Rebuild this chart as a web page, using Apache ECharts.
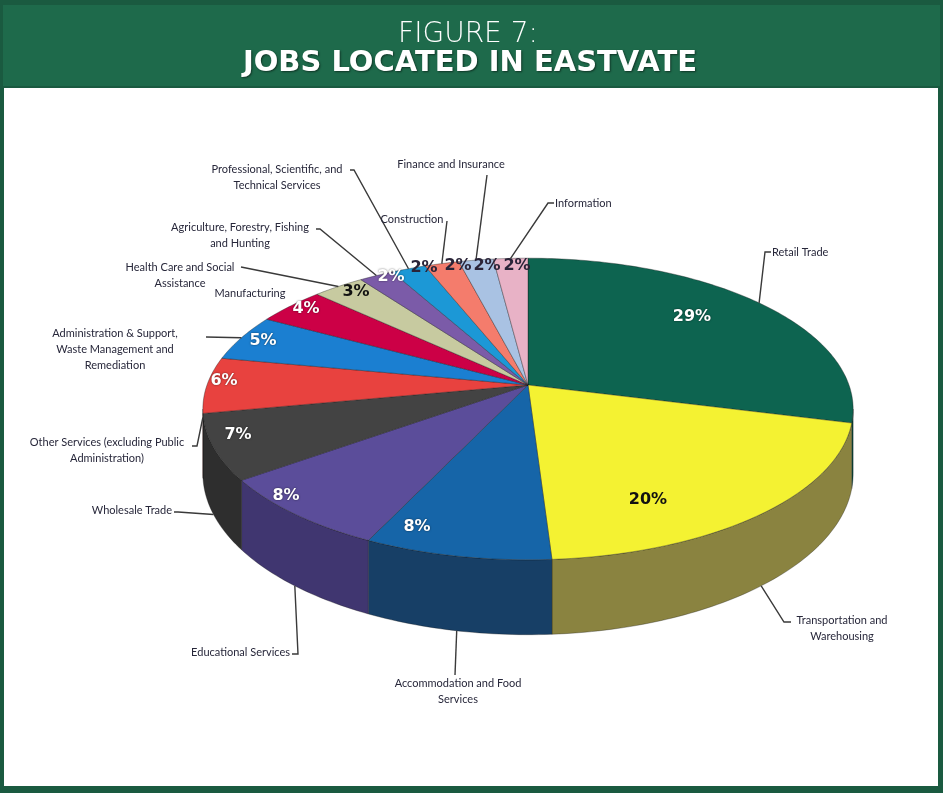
<!DOCTYPE html>
<html>
<head>
<meta charset="utf-8">
<title>Jobs Located in Eastvate</title>
<script src="https://cdn.jsdelivr.net/npm/echarts@6/dist/echarts.min.js"></script>
<style>
  html, body { margin: 0; padding: 0; background: #fff; }
  #chart { width: 943px; height: 793px; }
</style>
</head>
<body>
<div id="chart"></div>
<script>
// Industry sectors, clockwise from 12 o'clock
const categories = [
  'Retail Trade',
  'Transportation and\nWarehousing',
  'Accommodation and Food\nServices',
  'Educational Services',
  'Wholesale Trade',
  'Other Services (excluding Public\nAdministration)',
  'Administration & Support,\nWaste Management and\nRemediation',
  'Manufacturing',
  'Health Care and Social\nAssistance',
  'Agriculture, Forestry, Fishing\nand Hunting',
  'Professional, Scientific, and\nTechnical Services',
  'Construction',
  'Finance and Insurance',
  'Information'
];

// Share of jobs (%)
const shares = [29, 20, 8, 8, 7, 6, 5, 4, 3, 2, 2, 2, 2, 2];

// Slice colours: top face and side wall
const topColors = ['#0d6450', '#f4f232', '#1665a8', '#5b4d9a', '#434343', '#e8423f', '#1b7fd1',
  '#cc0046', '#c7caa0', '#7b5ba8', '#1c98d6', '#f47c6c', '#a9c2e3', '#e8b2c6'];
const sideColors = ['#0a4a3b', '#8a8340', '#173f66', '#403670', '#2e2e2e', '#a52e2c', '#135a94',
  '#8f0032', '#8c8e70', '#574077', '#146b97', '#ab574c', '#76889f', '#a37d8b'];
const pctColors = ['#ffffff', '#111111', '#ffffff', '#ffffff', '#ffffff', '#ffffff', '#ffffff',
  '#ffffff', '#111111', '#ffffff', '#2a2438', '#2a2438', '#2a2438', '#2a2438'];

// Tilted-disc projection of the pie
const PIE = { cx: 528, cy: 385, rx: 321, ry: 147, k: 0.159, h: 63 };
const WALL_MIN = Math.acos(-PIE.k);
const WALL_MAX = 2 * Math.PI - WALL_MIN;

function project(theta, r, depth) {
  const u = Math.sin(theta) * r;
  const v = -Math.cos(theta) * r;
  const d = 1 - PIE.k * v;
  return [PIE.cx + PIE.rx * u / d, PIE.cy + (PIE.ry * v + PIE.h * depth) / d];
}

const total = shares.reduce((a, b) => a + b, 0);
const startAngles = [];
let acc = 0;
shares.forEach(v => { startAngles.push(acc / total * 2 * Math.PI); acc += v; });
const sweeps = shares.map(v => v / total * 2 * Math.PI);

// Label placement (layout only)
const pctPos = [[692, 317], [648, 500], [417, 527], [286, 496], [238, 435], [224, 381], [263, 341],
  [306, 309], [356, 292], [391, 277], [424, 268], [458, 266], [487, 266], [517, 266]];
const callouts = [
  { x: 772, y: 252, align: 'left',   depth: 0,    elbow: [765, 252], end: [771, 252] },
  { x: 842, y: 620, align: 'center', depth: 1,    elbow: [784, 622], end: [791, 622] },
  { x: 458, y: 683, align: 'center', depth: 1,    elbow: null,       end: [455, 675] },
  { x: 290, y: 652, align: 'right',  depth: 1,    elbow: [298, 654], end: [292, 654] },
  { x: 172, y: 510, align: 'right',  depth: 1,    elbow: [178, 512], end: [174, 512] },
  { x: 107, y: 442, align: 'center', depth: 0.12, elbow: [197, 446], end: [192, 446] },
  { x: 115, y: 333, align: 'center', depth: 0,    elbow: null,       end: [206, 337] },
  { x: 250, y: 293, align: 'center', depth: 0,    elbow: null,       end: null },
  { x: 180, y: 267, align: 'center', depth: 0,    elbow: null,       end: [241, 267] },
  { x: 240, y: 227, align: 'center', depth: 0,    elbow: [320, 229], end: [316, 229] },
  { x: 277, y: 169, align: 'center', depth: 0,    elbow: [354, 170], end: [350, 170] },
  { x: 412, y: 219, align: 'center', depth: 0,    elbow: null,       end: [447, 221] },
  { x: 451, y: 164, align: 'center', depth: 0,    elbow: null,       end: [487, 175] },
  { x: 555, y: 203, align: 'left',   depth: 0,    elbow: [548, 203], end: [554, 203] }
];

function arcPoints(a0, a1, r, depth) {
  const pts = [];
  const n = Math.max(2, Math.ceil((a1 - a0) / (Math.PI / 180)));
  for (let j = 0; j <= n; j++) pts.push(project(a0 + (a1 - a0) * j / n, r, depth));
  return pts;
}

function renderSlice(params, api) {
  const i = params.dataIndex;
  const a0 = startAngles[i];
  const a1 = a0 + sweeps[i];
  const children = [];
  const s = Math.max(a0, WALL_MIN), e = Math.min(a1, WALL_MAX);
  if (e > s) {
    const topArc = arcPoints(s, e, 1, 0);
    const botArc = arcPoints(s, e, 1, 1).reverse();
    children.push({
      type: 'polygon',
      shape: { points: topArc.concat(botArc) },
      style: { fill: sideColors[i], stroke: 'rgba(20,20,20,0.45)', lineWidth: 0.7 }
    });
  }
  const face = [project(0, 0, 0)].concat(arcPoints(a0, a1, 1, 0));
  children.push({
    type: 'polygon',
    shape: { points: face },
    style: { fill: topColors[i], stroke: 'rgba(20,20,20,0.5)', lineWidth: 0.7 }
  });
  return { type: 'group', children: children };
}

function renderLabel(params, api) {
  const i = params.dataIndex;
  const value = api.value(0);
  const c = callouts[i];
  const children = [];
  const white = pctColors[i] === '#ffffff';
  children.push({
    type: 'text',
    z2: 20,
    style: {
      text: value + '%',
      x: pctPos[i][0], y: pctPos[i][1],
      align: 'center', verticalAlign: 'middle',
      textAlign: 'center', textVerticalAlign: 'middle',
      font: 'bold 16px "DejaVu Sans", Verdana, sans-serif',
      fill: pctColors[i],
      textShadowColor: white ? 'rgba(0,0,0,0.6)' : 'rgba(0,0,0,0)',
      textShadowBlur: white ? 2 : 0
    }
  });
  children.push({
    type: 'text',
    z2: 20,
    style: {
      text: categories[i],
      x: c.x, y: c.y - 8,
      align: c.align, verticalAlign: 'top',
      textAlign: c.align, textVerticalAlign: 'top',
      font: '11px Lato, "Open Sans", sans-serif',
      lineHeight: 16,
      fill: '#27273a'
    }
  });
  if (c.end) {
    const mid = startAngles[i] + sweeps[i] / 2;
    let ang = mid;
    if (c.depth > 0) ang = Math.min(Math.max(mid, WALL_MIN + 0.005), WALL_MAX - 0.005);
    const anchor = project(ang, 1, c.depth);
    const pts = [anchor];
    if (c.elbow) pts.push(c.elbow);
    pts.push(c.end);
    children.push({
      type: 'polyline',
      z2: 15,
      shape: { points: pts },
      style: { stroke: '#3a3a3a', lineWidth: 1.4, fill: null }
    });
  }
  return { type: 'group', children: children };
}

const seriesData = shares.map((v, i) => ({ name: categories[i].replace(/\n/g, ' '), value: v }));

const chart = echarts.init(document.getElementById('chart'), null, { renderer: 'canvas' });
chart.setOption({
  animation: false,
  backgroundColor: '#ffffff',
  graphic: [
    { type: 'rect', z: -10, shape: { x: 0, y: 0, width: 943, height: 793 }, style: { fill: '#1a5a40' } },
    { type: 'rect', z: -9, shape: { x: 3, y: 5, width: 937, height: 81 }, style: { fill: '#1e6a4b' } },
    { type: 'rect', z: -9, shape: { x: 4, y: 88, width: 934, height: 698 }, style: { fill: '#ffffff' } },
    {
      type: 'text', z: 10,
      style: {
        text: 'FIGURE 7:', x: 468, y: 35,
        textAlign: 'center', textVerticalAlign: 'middle',
        font: '200 28px "DejaVu Sans", Tahoma, sans-serif', fill: '#ffffff'
      }
    },
    {
      type: 'text', z: 10,
      style: {
        text: 'JOBS LOCATED IN EASTVATE', x: 470, y: 63,
        textAlign: 'center', textVerticalAlign: 'middle',
        font: 'bold 29px "DejaVu Sans", Verdana, sans-serif', fill: '#ffffff',
        textShadowColor: 'rgba(0,0,0,0.5)', textShadowBlur: 2, textShadowOffsetX: 1, textShadowOffsetY: 1
      }
    }
  ],
  series: [
    { type: 'custom', name: 'Jobs', coordinateSystem: 'none', data: seriesData, renderItem: renderSlice, silent: true },
    { type: 'custom', name: 'Labels', coordinateSystem: 'none', data: seriesData, renderItem: renderLabel, silent: true, z: 5 }
  ]
});
</script>
</body>
</html>
